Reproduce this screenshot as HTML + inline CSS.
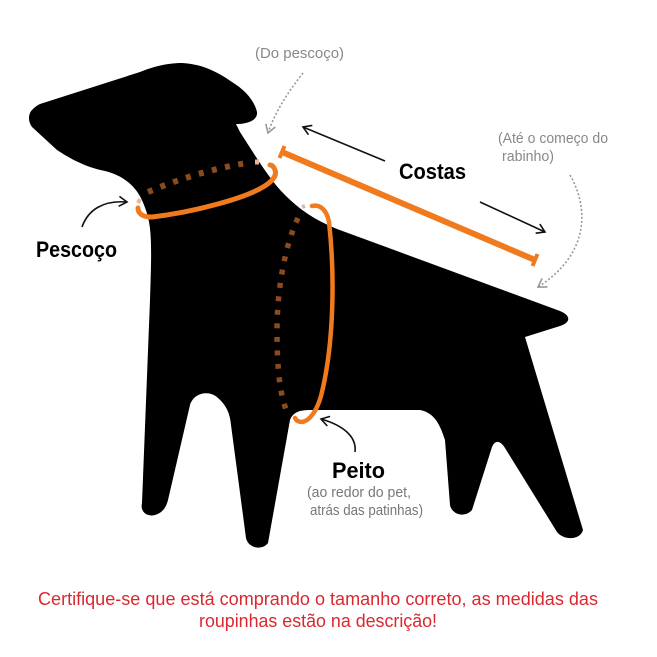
<!DOCTYPE html>
<html><head><meta charset="utf-8"><style>
html,body{margin:0;padding:0;background:#fff;}
svg{display:block;}
text{font-family:"Liberation Sans",sans-serif;}
</style></head><body>
<svg width="657" height="657" viewBox="0 0 657 657" xmlns="http://www.w3.org/2000/svg">
<defs>
<marker id="ab" markerWidth="12" markerHeight="12" refX="10" refY="6" orient="auto" markerUnits="userSpaceOnUse">
<path d="M2,1 L10,6 L2,11" fill="none" stroke="#111" stroke-width="1.6"/>
</marker>
<marker id="ag" markerWidth="12" markerHeight="12" refX="10" refY="6" orient="auto" markerUnits="userSpaceOnUse">
<path d="M2,1 L10,6 L2,11" fill="none" stroke="#999" stroke-width="1.6"/>
</marker>
</defs>
<rect width="657" height="657" fill="#fff"/>
<path fill="#000" d="M32,110 C28,114 28,122 32,127 L57,150 C75,162 90,168 105,171 C125,176 138,188 144,205 C152,225 152,240 150,300 L142,503 C140,512 147,517 155,515 C162,513 166,508 168,500 L190,405 C194,392 210,390 218,398 C226,405 230,413 231,425 L246,538 C248,548 262,551 268,543 L290,420 C293,412 300,410 310,410 L420,410 C435,413 440,425 445,440 L450,505 C452,515 465,518 472,510 L492,447 C495,440 500,440 505,448 L557,532 C563,540 580,541 583,530 L525,337 L560,326 C572,322 570,315 560,311 L337,229 C315,220 300,210 285,195 C270,180 258,160 240,132 L236,124 C248,124 258,120 257,112 C254,100 245,90 232,82 C215,70 200,64 182,63 C165,63 150,68 140,72 L40,104 C36,106 34,108 32,110 Z"/>
<path d="M148,192 Q195,172 246,163" fill="none" stroke="#8b4b1f" stroke-width="6" stroke-dasharray="5 8.5"/>
<path d="M255,162 L259,162" stroke="#e5b79a" stroke-width="5"/>
<path d="M140,199 L138,203" stroke="#e5b79a" stroke-width="4"/>
<path d="M138,208 C138,214 143,217 152,217 C195,212 245,198 263,187 C273,181 277,175 275,170 C274,167 272,165 270,165" fill="none" stroke="#f07a1e" stroke-width="5" stroke-linecap="round"/>
<path d="M298,218 C285,245 277,290 277,330 C277,370 280,395 287,412" fill="none" stroke="#8b4b1f" stroke-width="5.5" stroke-dasharray="5 8.5"/>
<path d="M302,207 L305,206" stroke="#e5b79a" stroke-width="4"/>
<path d="M312,206 C321,204 327,211 329,222 C335,275 334,345 321,396 C317,410 310,421 302,422 C298,422 296,420 295,418" fill="none" stroke="#f07a1e" stroke-width="4.5" stroke-linecap="round"/>
<line x1="282" y1="152" x2="535" y2="260" stroke="#f07a1e" stroke-width="6"/>
<line x1="284.5" y1="146" x2="279.5" y2="158" stroke="#f07a1e" stroke-width="4"/>
<line x1="537.5" y1="254" x2="532.5" y2="266" stroke="#f07a1e" stroke-width="4"/>
<line x1="385" y1="161" x2="303" y2="127" stroke="#111" stroke-width="1.6" marker-end="url(#ab)"/>
<line x1="480" y1="202" x2="545" y2="232" stroke="#111" stroke-width="1.6" marker-end="url(#ab)"/>
<path d="M82,227 C88,210 103,200 127,202" fill="none" stroke="#111" stroke-width="1.6" marker-end="url(#ab)"/>
<path d="M355,452 C357,436 342,425 321,419" fill="none" stroke="#111" stroke-width="1.6" marker-end="url(#ab)"/>
<path d="M303,73 C288,92 275,112 268,133" fill="none" stroke="#999" stroke-width="1.6" stroke-dasharray="2 2" marker-end="url(#ag)"/>
<path d="M570,175 C590,210 588,255 538,287" fill="none" stroke="#999" stroke-width="1.6" stroke-dasharray="2 2" marker-end="url(#ag)"/>
<text x="255" y="58" font-size="15" fill="#888" textLength="89" lengthAdjust="spacingAndGlyphs">(Do pescoço)</text>
<text x="498" y="143" font-size="15" fill="#888" textLength="110" lengthAdjust="spacingAndGlyphs">(Até o começo do</text>
<text x="502" y="161" font-size="15" fill="#888" textLength="52" lengthAdjust="spacingAndGlyphs">rabinho)</text>
<text x="399" y="179" font-size="22" font-weight="bold" fill="#000" textLength="67" lengthAdjust="spacingAndGlyphs">Costas</text>
<text x="36" y="257" font-size="22" font-weight="bold" fill="#000" textLength="81" lengthAdjust="spacingAndGlyphs">Pescoço</text>
<text x="332" y="478" font-size="22" font-weight="bold" fill="#000" textLength="53" lengthAdjust="spacingAndGlyphs">Peito</text>
<text x="307" y="497" font-size="15" fill="#777" textLength="104" lengthAdjust="spacingAndGlyphs">(ao redor do pet,</text>
<text x="310" y="515" font-size="15" fill="#777" textLength="113" lengthAdjust="spacingAndGlyphs">atrás das patinhas)</text>
<text x="38" y="605" font-size="18" fill="#d9282f" textLength="560" lengthAdjust="spacingAndGlyphs">Certifique-se que está comprando o tamanho correto, as medidas das</text>
<text x="199" y="627" font-size="18" fill="#d9282f" textLength="238" lengthAdjust="spacingAndGlyphs">roupinhas estão na descrição!</text>
</svg>
</body></html>
